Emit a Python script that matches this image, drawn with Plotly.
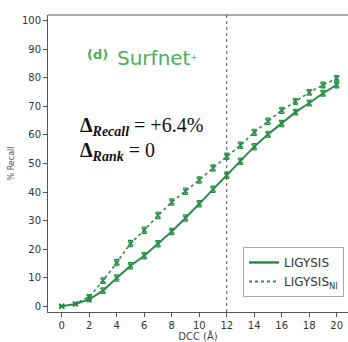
import plotly.graph_objects as go

dcc = list(range(0, 21))
ligysis = [0, 0.8, 2.4, 5.5, 9.9, 14.2, 17.7, 21.9, 26.2, 30.9, 35.9, 41.0, 45.9,
           50.8, 55.9, 60.2, 64.0, 68.0, 71.2, 74.6, 77.5]
ligysis_ni = [0, 0.9, 3.3, 9.0, 15.3, 22.0, 26.6, 31.8, 36.5, 40.3, 44.2, 48.4, 52.5,
              56.4, 60.9, 64.8, 68.6, 71.7, 74.9, 77.5, 79.8]
err = [0.3, 0.4, 0.8, 1.0, 1.1, 1.1, 1.1, 1.1, 1.1, 1.1, 1.1, 1.1, 1.1,
       1.1, 1.1, 1.1, 1.1, 1.0, 1.0, 1.0, 1.0]
x_tick_vals = list(range(0, 21, 2))
y_tick_vals = list(range(0, 101, 10))
cutoff = 12

green = "#2b8f46"
title_green = "#4fae57"

fig = go.Figure()
fig.add_trace(go.Scatter(
    x=dcc, y=ligysis, mode="lines+markers", showlegend=False,
    line=dict(color=green, width=2),
    marker=dict(symbol="x-thin", size=5, line=dict(color=green, width=1.5)),
    error_y=dict(type="data", array=err, color=green, thickness=1.2, width=2.5),
))
fig.add_trace(go.Scatter(
    x=dcc, y=ligysis_ni, mode="lines+markers", showlegend=False,
    line=dict(color=green, width=1.6, dash="dot"),
    marker=dict(symbol="x-thin", size=5, line=dict(color=green, width=1.5)),
    error_y=dict(type="data", array=err, color=green, thickness=1.2, width=2.5),
))
# legend-only entries
fig.add_trace(go.Scatter(x=[None], y=[None], mode="lines", name="LIGYSIS",
                         line=dict(color=green, width=2.5)))
fig.add_trace(go.Scatter(x=[None], y=[None], mode="lines", name="LIGYSIS<sub>NI</sub>",
                         line=dict(color=green, width=2, dash="dot")))

fig.add_vline(x=cutoff, line=dict(color="#555555", width=1, dash="dot"))
fig.add_shape(type="line", xref="paper", yref="paper", x0=0, x1=1, y0=1, y1=1,
              line=dict(color="#555555", width=1))

fig.add_annotation(xref="paper", yref="y", x=0.123, y=88.3, xanchor="left", yanchor="middle",
                   showarrow=False, text="<b>(d)</b>",
                   font=dict(family="DejaVu Sans", size=13, color=title_green))
fig.add_annotation(xref="paper", yref="y", x=0.223, y=86.9, xanchor="left", yanchor="middle",
                   showarrow=False,
                   text="Surfnet<span style='font-size:12px'><sup>+</sup></span>",
                   font=dict(family="DejaVu Sans", size=20, color=title_green))
fig.add_annotation(xref="paper", yref="y", x=0.1, y=62.9, xanchor="left", yanchor="middle",
                   showarrow=False,
                   text="<b>Δ</b><sub><b><i>Recall</i></b></sub> = +6.4%",
                   font=dict(family="Liberation Serif", size=20, color="#111111"))
fig.add_annotation(xref="paper", yref="y", x=0.1, y=54.3, xanchor="left", yanchor="middle",
                   showarrow=False,
                   text="<b>Δ</b><sub><b><i>Rank</i></b></sub> = 0",
                   font=dict(family="Liberation Serif", size=20, color="#111111"))

fig.update_layout(
    width=348, height=342,
    margin=dict(l=48, r=0, t=15, b=26),
    paper_bgcolor="white", plot_bgcolor="white",
    font=dict(family="DejaVu Sans", size=10, color="#333333"),
    legend=dict(x=0.65, y=0.219, xanchor="left", yanchor="top",
                bordercolor="#aaaaaa", borderwidth=1, bgcolor="white",
                font=dict(size=12, color="#333333"), itemwidth=30,
                tracegroupgap=2),
    xaxis=dict(range=[-1, 20.82], tickvals=x_tick_vals, ticks="outside", ticklen=4,
               tickcolor="#555555", showline=True, linecolor="#555555", linewidth=1,
               showgrid=False, zeroline=False,
               title=dict(text="DCC (Å)", font=dict(size=10, color="#444444"), standoff=4)),
    yaxis=dict(range=[-2, 102], tickvals=y_tick_vals, ticks="outside", ticklen=4,
               tickcolor="#555555", showline=True, linecolor="#555555", linewidth=1,
               showgrid=False, zeroline=False,
               title=dict(text="% Recall", font=dict(size=8, color="#555555"), standoff=6)),
)

fig.write_html("out.html")
